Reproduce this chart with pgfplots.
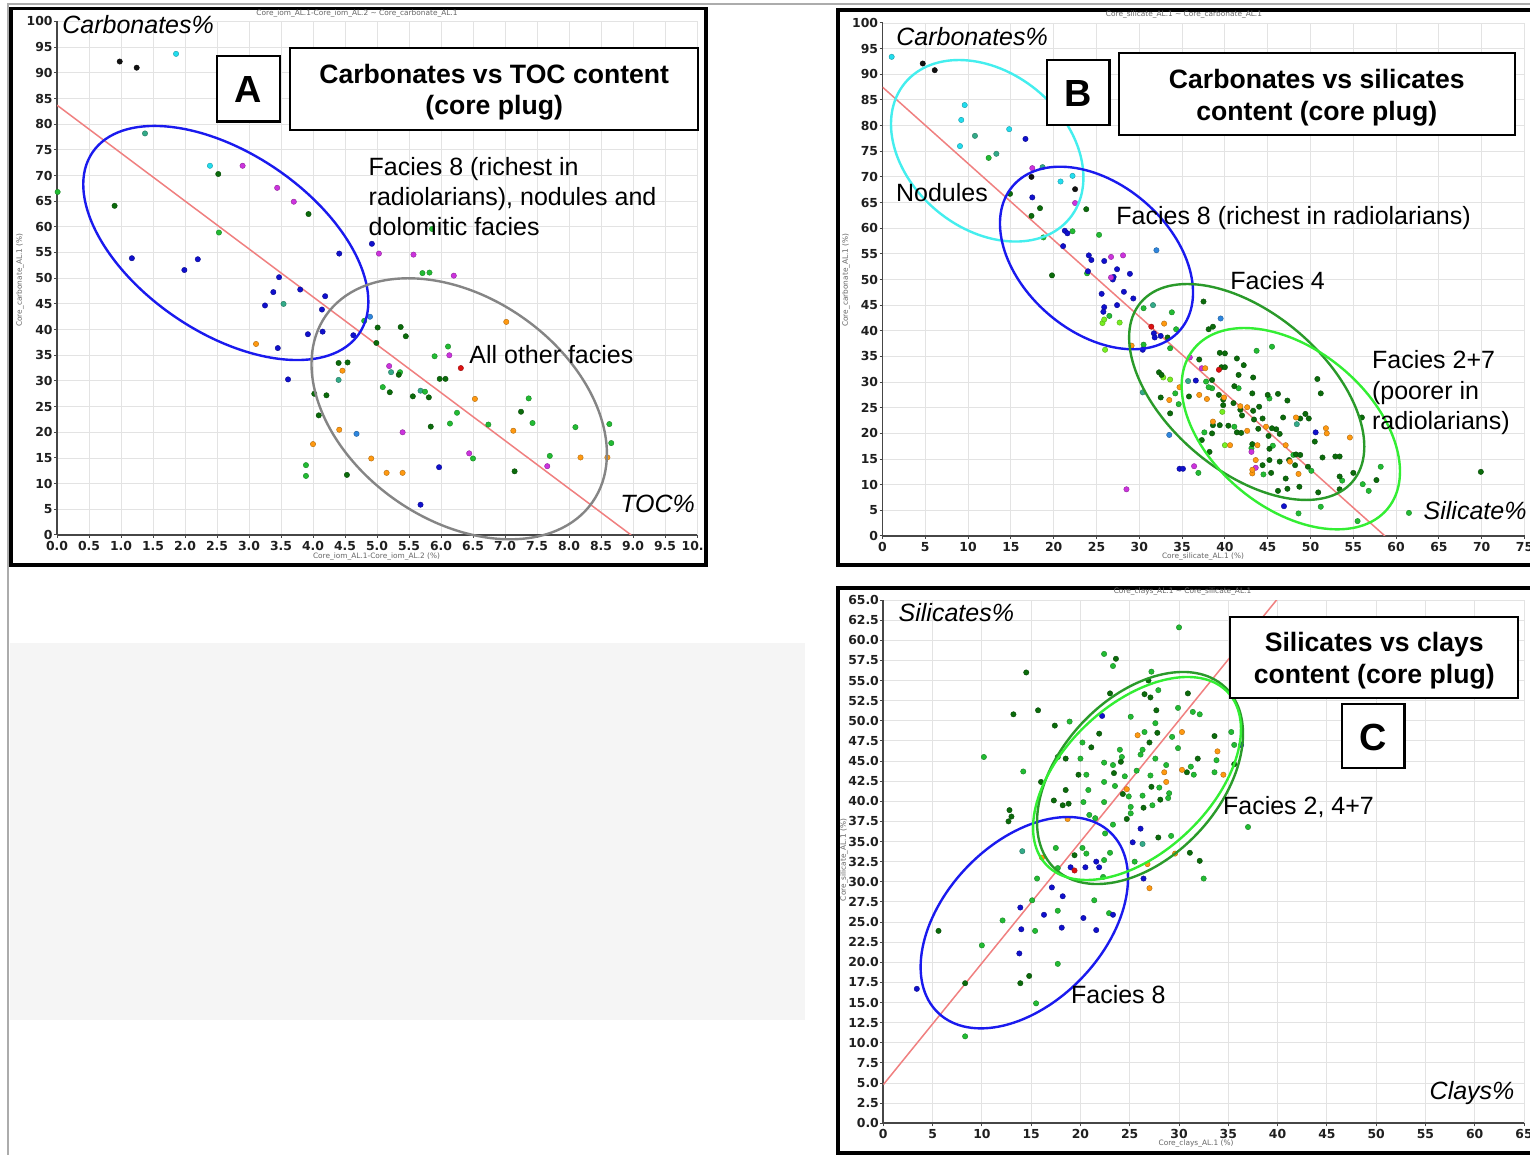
\documentclass[border=0pt]{standalone}
\usepackage{fontspec}
\setmainfont{Liberation Sans}
\newfontfamily\dejavu{DejaVu Sans}
\usepackage{pgfplots}
\pgfplotsset{compat=1.18}

\definecolor{cBlack}{HTML}{111111}
\definecolor{cCyan}{HTML}{22DDEE}
\definecolor{cTeal}{HTML}{33AA88}
\definecolor{cGreen}{HTML}{22BB33}
\definecolor{cDkGreen}{HTML}{0B6B0B}
\definecolor{cLime}{HTML}{77EE22}
\definecolor{cBlue}{HTML}{1010CC}
\definecolor{cSteel}{HTML}{2E86DE}
\definecolor{cMag}{HTML}{CC33DD}
\definecolor{cOrange}{HTML}{FF9911}
\definecolor{cRed}{HTML}{DD1111}
\definecolor{cLine}{HTML}{F08080}
\definecolor{eBlue}{HTML}{1A1AEE}
\definecolor{eGrey}{HTML}{858585}
\definecolor{eCyan}{HTML}{44EEEE}
\definecolor{eDkGreen}{HTML}{2A9A2A}
\definecolor{eLtGreen}{HTML}{33EE33}

\pgfplotsset{
  panel/.style={
    scale only axis, anchor=south west,
    axis x line*=bottom, axis y line*=left,
    axis line style={draw=gray!55!black, line width=0.9pt},
    grid=major, grid style={draw=gray!22, line width=0.45pt},
    tick style={draw=gray!55!black, line width=0.5pt},
    tick align=outside, major tick length=1.5pt,
    ticklabel style={font=\dejavu\bfseries\fontsize{6.2}{7}\selectfont, text=black!88},
    xticklabel style={yshift=2pt},
    yticklabel style={xshift=2.8pt},
    /pgf/number format/assume math mode=true,
    clip=true,
  },
  dot/.style={only marks, mark=*, mark size=1.35pt, color=#1,
    mark options={fill=#1, draw=#1!70!black, line width=0.2pt}},
  reg/.style={cLine, line width=0.75pt, no marks},
}

\begin{document}
\begin{tikzpicture}
\useasboundingbox (0,0) rectangle (765pt,577.5pt);
\clip (0,0) rectangle (765pt,577.5pt);
\begin{scope}[x=0.5pt,y=-0.5pt,yshift=577.5pt]
  \fill[white] (0,0) rectangle (1530,1155);
  \coordinate (Ao) at (57,535);
  \coordinate (Bo) at (882.5,536);
  \coordinate (Co) at (883.3,1123.3);
  \fill[gray!8] (10,643) rectangle (805,1020);
  \draw[gray!65, line width=1pt] (8,1160) -- (8,4.5) -- (1540,4.5);
  \draw[black, line width=1.9pt] (11,8.5) rectangle (706,565);
  \draw[black, line width=1.9pt] (838.3,9.7) rectangle (1545,565.3);
  \draw[black, line width=1.9pt] (838.3,587.7) rectangle (1545,1153);
\end{scope}

% ---------------- Panel A ----------------
\begin{axis}[panel, at={(Ao)}, width=320pt, height=256.75pt,
  xmin=0, xmax=10, ymin=0, ymax=100,
  xtick={0,0.5,...,10}, ytick={0,5,...,100},
  xticklabels={0.0,0.5,1.0,1.5,2.0,2.5,3.0,3.5,4.0,4.5,5.0,5.5,6.0,6.5,7.0,7.5,8.0,8.5,9.0,9.5,{\makebox[15.3pt][l]{10.}}},
]
\addplot[reg] coordinates {(0,83.7) (8.97,0)};
\addplot[dot=cBlack] coordinates {(0.98,92.2) (1.245,91.0)};
\addplot[dot=cCyan] coordinates {(1.86,93.7) (2.39,71.9)};
\addplot[dot=cTeal] coordinates {(1.375,78.2) (3.54,45.0) (4.40,30.2) (5.22,31.7) (5.68,28.1)};
\addplot[dot=cGreen] coordinates {(0.01,66.8) (2.53,58.9) (5.86,59.6) (5.71,51.0) (5.82,51.1) (4.80,41.7) (3.89,13.6) (3.89,11.5) (5.09,28.8) (6.11,36.7) (5.90,34.8) (5.36,31.7) (5.75,27.9) (7.37,26.6) (6.25,23.8) (6.14,21.7) (6.74,21.5) (7.43,21.8) (8.10,21.0) (8.63,21.6) (8.66,17.9) (6.5,14.9) (7.70,15.4)};
\addplot[dot=cDkGreen] coordinates {(0.90,64.1) (2.52,70.3) (3.93,62.5) (5.01,40.4) (4.99,37.4) (4.40,33.5) (4.54,33.6) (4.02,27.5) (4.21,27.2) (4.09,23.3) (4.53,11.7) (5.34,31.2) (5.20,27.8) (5.37,40.5) (5.45,38.7) (5.98,30.4) (6.07,30.4) (5.56,27.0) (5.81,26.8) (7.25,24.0) (5.84,21.1) (7.15,12.4)};
\addplot[dot=cBlue] coordinates {(1.17,53.9) (1.99,51.6) (2.2,53.7) (3.47,50.2) (3.38,47.3) (3.80,47.8) (4.19,46.5) (4.41,54.8) (4.92,56.7) (3.25,44.7) (4.14,43.9) (4.15,39.6) (3.92,39.1) (3.45,36.4) (3.61,30.3) (4.63,38.9) (5.97,13.2) (5.68,5.9)};
\addplot[dot=cMag] coordinates {(2.9,71.9) (3.44,67.6) (3.70,64.9) (5.03,54.8) (5.57,54.6) (6.20,50.5) (5.19,32.9) (6.13,35.0) (5.40,20.0) (6.44,15.9) (7.66,13.4)};
\addplot[dot=cOrange] coordinates {(3.11,37.2) (4.46,32.0) (4.41,20.5) (4.0,17.7) (4.91,14.9) (5.15,12.1) (5.40,12.1) (6.53,26.5) (7.13,20.3) (8.18,15.1) (8.60,15.1) (7.02,41.5)};
\addplot[dot=cSteel] coordinates {(4.89,42.5) (4.68,19.7)};
\addplot[dot=cRed] coordinates {(6.31,32.5)};
\end{axis}

% ---------------- Panel B ----------------
\begin{axis}[panel, at={(Bo)}, width=321pt, height=256.5pt,
  xmin=0, xmax=75, ymin=0, ymax=100,
  xtick={0,5,...,75}, ytick={0,5,...,100},
]
\addplot[reg] coordinates {(0,87.5) (58.7,0)};
\addplot[dot=cCyan] coordinates {(1.07,93.4) (9.6,84.0) (9.2,81.1) (14.8,79.3) (9.05,76.0) (20.8,69.1) (22.2,70.2)};
\addplot[dot=cTeal] coordinates {(13.3,74.5) (18.7,71.9) (10.8,78.0) (31.6,45.0) (30.4,28.0) (35.7,30.2) (48.4,21.8)};
\addplot[dot=cBlack] coordinates {(4.7,92.1) (6.1,90.8) (22.5,67.6) (17.4,70.0)};
\addplot[dot=cGreen] coordinates {(12.4,73.7) (25.3,58.7) (18.8,58.2) (22.2,59.4) (23.9,51.2) (26.5,42.9) (30.5,44.4) (33.8,43.6) (34.3,40.3) (30.5,37.3) (33.6,36.6) (34.2,27.8) (34.6,25.7) (37.8,30.1) (38.5,28.8) (41.6,28.8) (45.2,26.8) (43.7,36.1) (45.5,36.9) (41.1,21.3) (37.6,20.2) (43.1,17.1) (45.6,17.6) (48.0,15.8) (50.1,12.7) (44.5,12.0) (53.7,10.8) (56.1,10.1) (58.2,13.5) (56.8,8.8) (51.2,5.7) (48.6,4.4) (55.5,2.9) (61.5,4.5) (36.9,12.3) (38.1,29.0)};
\addplot[dot=cLime] coordinates {(25.7,41.5) (27.7,41.6) (26.0,36.3) (32.8,30.9) (33.6,30.5) (39.7,24.2) (40.0,17.7) (25.9,42.2)};
\addplot[dot=cDkGreen] coordinates {(14.9,66.7) (18.4,63.9) (17.4,62.4) (23.8,63.7) (19.8,50.8) (33.3,38.7) (32.3,31.9) (32.6,31.4) (32.5,27.0) (33.6,23.9) (37.5,45.7) (38.1,40.3) (38.6,40.8) (39.4,35.7) (40.0,35.6) (37.0,34.4) (41.4,34.6) (42.2,33.3) (39.6,32.9) (40.0,32.9) (41.6,31.4) (43.3,30.9) (50.8,30.6) (51.2,27.8) (38.5,30.4) (41.1,29.2) (43.2,27.8) (45.0,27.5) (46.2,27.7) (47.3,26.4) (35.8,27.2) (39.3,27.5) (39.8,26.6) (41.0,25.9) (39.8,25.5) (41.8,24.6) (43.3,24.4) (44.0,25.2) (42.0,23.5) (43.4,22.7) (44.4,22.9) (46.0,20.8) (46.8,23.1) (48.8,22.9) (49.4,23.8) (49.8,22.9) (56.0,23.1) (50.5,18.4) (38.6,21.6) (39.4,21.6) (40.4,21.5) (41.4,20.2) (41.9,20.1) (43.9,20.9) (45.5,21.0) (45.1,19.5) (46.4,19.9) (38.5,20.0) (37.3,18.7) (38.2,16.4) (43.2,17.9) (45.2,17.0) (46.4,14.5) (45.2,14.8) (44.4,13.8) (45.4,12.3) (47.5,14.8) (48.3,15.9) (48.8,15.8) (48.2,13.8) (49.7,13.5) (47.1,11.2) (46.2,8.8) (47.3,9.2) (48.7,9.6) (50.9,8.5) (51.4,15.3) (52.9,15.5) (53.4,15.5) (55.0,12.3) (53.4,11.6) (53.4,9.1) (57.7,10.9) (69.9,12.5)};
\addplot[dot=cBlue] coordinates {(16.7,77.4) (17.5,66.0) (21.3,59.5) (21.6,59.0) (21.1,56.5) (24.1,54.7) (24.4,53.8) (25.9,53.6) (27.4,52.0) (28.9,51.1) (24.0,51.6) (27.0,50.5) (26.9,50.0) (25.6,47.2) (28.2,47.6) (29.3,46.3) (25.9,44.6) (25.8,43.7) (27.4,45.0) (31.7,39.5) (31.8,38.7) (32.5,39.0) (30.4,36.3) (34.7,13.1) (36.6,30.3) (50.6,20.2) (46.9,5.8) (35.1,13.1)};
\addplot[dot=cMag] coordinates {(17.5,71.7) (22.5,64.9) (26.7,54.4) (28.1,54.7) (26.7,50.4) (28.5,9.1) (35.9,34.8) (37.3,32.7) (43.1,16.4) (43.6,13.3) (36.4,13.6)};
\addplot[dot=cOrange] coordinates {(29.1,37.1) (32.9,41.4) (33.5,26.5) (34.7,29.0) (37.7,32.7) (37.0,27.5) (37.9,26.7) (39.9,27.0) (41.8,25.3) (42.6,25.1) (44.8,21.3) (48.3,23.1) (51.8,21.0) (51.9,20.0) (54.6,19.2) (38.6,22.3) (42.6,20.5) (40.6,17.7) (43.8,17.7) (47.1,17.7) (43.6,14.8) (43.2,12.2) (43.2,12.9) (47.6,14.5) (48.6,12.1)};
\addplot[dot=cSteel] coordinates {(32.0,55.7) (39.5,42.4) (33.5,19.7)};
\addplot[dot=cRed] coordinates {(31.4,40.8) (39.3,32.4)};
\end{axis}

% ---------------- Panel C ----------------
\begin{axis}[panel, at={(Co)}, width=320.35pt, height=261.65pt,
  xmin=0, xmax=65, ymin=0, ymax=65,
  xtick={0,5,...,65}, ytick={0,2.5,...,65},
  yticklabel style={/pgf/number format/.cd, fixed, fixed zerofill, precision=1},
]
\addplot[reg] coordinates {(0,4.8) (45,72.7)};
\addplot[dot=cGreen] coordinates {(30.0,61.6) (22.4,58.3) (23.3,56.8) (27.2,56.1) (27.9,53.8) (29.9,51.6) (25.1,50.5) (18.9,49.9) (27.6,49.7) (26.5,48.6) (29.3,48.0) (20.2,47.3) (29.9,46.6) (24.0,46.4) (26.3,46.4) (10.2,45.5) (20.0,45.3) (24.2,45.5) (22.4,44.8) (26.1,45.8) (27.6,45.3) (28.7,44.5) (23.3,44.5) (14.2,43.7) (25.7,43.8) (20.6,43.3) (24.5,43.1) (27.1,43.2) (22.4,42.4) (23.5,41.9) (28.0,41.7) (20.8,41.4) (29.0,41.0) (24.9,40.6) (26.3,40.7) (28.9,40.4) (20.3,39.9) (22.4,39.9) (25.1,39.3) (27.3,39.5) (25.1,38.5) (20.9,38.3) (21.5,37.9) (23.3,37.1) (29.2,35.7) (22.5,36.0) (20.2,34.2) (17.5,34.2) (20.6,33.5) (23.0,33.6) (22.4,32.7) (25.5,32.5) (17.7,31.7) (31.4,51.1) (32.1,50.8) (35.3,48.6) (35.6,47.0) (33.8,45.1) (31.2,44.3) (31.5,43.3) (33.6,43.6) (37.0,36.8) (32.5,30.4) (15.6,30.4) (22.3,30.6) (15.1,27.7) (21.4,27.7) (17.7,26.4) (22.9,26.1) (12.1,25.2) (15.4,23.9) (10.0,22.1) (17.7,19.8) (15.5,14.9) (8.3,10.8)};
\addplot[dot=cDkGreen] coordinates {(23.6,57.7) (14.5,56.0) (26.9,55.0) (23.0,53.4) (26.5,53.3) (27.1,52.9) (27.7,51.3) (13.2,50.8) (15.7,51.3) (17.4,49.4) (27.8,48.5) (21.9,48.4) (27.0,47.3) (21.1,46.7) (17.7,45.5) (18.5,45.3) (24.1,44.9) (23.4,43.5) (19.8,43.3) (16.0,42.4) (27.2,41.8) (18.5,41.4) (24.3,40.9) (17.3,40.1) (28.1,40.2) (18.2,39.5) (18.8,39.7) (26.4,39.2) (12.8,38.9) (13.0,38.1) (12.7,37.5) (24.7,37.8) (27.9,35.5) (19.4,33.3) (30.9,53.4) (33.6,48.1) (31.9,45.3) (35.6,44.6) (30.8,43.6) (31.1,33.6) (32.1,32.6) (5.6,23.9) (14.8,18.3) (8.3,17.4) (13.9,17.4)};
\addplot[dot=cBlue] coordinates {(22.2,50.6) (26.1,36.6) (25.3,34.9) (21.6,32.5) (19.0,31.8) (20.5,31.8) (21.9,31.8) (36.3,47.0) (26.4,30.4) (17.1,29.3) (18.2,28.2) (13.9,26.8) (16.3,25.9) (23.3,25.9) (20.3,25.5) (14.0,24.1) (18.1,24.3) (21.6,24.0) (13.8,21.1) (3.4,16.7)};
\addplot[dot=cOrange] coordinates {(25.8,48.2) (28.5,43.6) (28.7,42.4) (24.7,41.5) (18.7,37.8) (16.1,33.0) (26.8,32.2) (29.6,33.5) (30.3,48.6) (33.9,46.2) (30.3,43.9) (34.5,43.3) (27.0,29.2)};
\addplot[dot=cTeal] coordinates {(26.3,34.7) (14.1,33.8)};
\addplot[dot=cRed] coordinates {(19.4,31.4)};
\end{axis}

% ---------------- Annotations ----------------
\begin{scope}[x=0.5pt,y=-0.5pt,yshift=577.5pt]
  % ellipses A
  \draw[eBlue, line width=1.2pt, rotate around={-34.2:(225.8,243)}] (225.8,243) ellipse [x radius=161.2, y radius=89.6];
  \draw[eGrey, line width=1.2pt, rotate around={-35.1:(459.2,408.8)}] (459.2,408.8) ellipse [x radius=162.7, y radius=111.2];
  % ellipses B
  \draw[eCyan, line width=1.2pt, rotate around={-39.4:(987.2,150.8)}] (987.2,150.8) ellipse [x radius=106.6, y radius=78.3];
  \draw[eBlue, line width=1.2pt, rotate around={-40.8:(1096.5,258)}] (1096.5,258) ellipse [x radius=110.4, y radius=73.9];
  \draw[eDkGreen, line width=1.2pt, rotate around={-40.2:(1246.7,392)}] (1246.7,392) ellipse [x radius=138.7, y radius=79];
  \draw[eLtGreen, line width=1.2pt, rotate around={-39.6:(1290.8,428.7)}] (1290.8,428.7) ellipse [x radius=125.6, y radius=79.2];
  % ellipses C
  \draw[eBlue, line width=1.2pt, rotate around={46.3:(1024.3,922.7)}] (1024.3,922.7) ellipse [x radius=124.7, y radius=79.8];
  \draw[eDkGreen, line width=1.2pt, rotate around={47:(1140,778)}] (1140,778) ellipse [x radius=124.4, y radius=79.8];
  \draw[eLtGreen, line width=1.2pt, rotate around={43.6:(1137,778.5)}] (1137,778.5) ellipse [x radius=125.2, y radius=73.7];

  % title boxes
  \draw[black, line width=1pt, fill=white] (290,48.3) rectangle (698.3,130);
  \node[align=center, font=\bfseries\fontsize{13.3}{16}\selectfont] at (494.2,92.2) {Carbonates vs TOC content\\(core plug)};
  \draw[black, line width=1.2pt, fill=white] (216.7,56) rectangle (280,121.7);
  \node[font=\bfseries\fontsize{18.9}{20}\selectfont] at (248.3,89.9) {A};

  \draw[black, line width=1pt, fill=white] (1118.7,53.3) rectangle (1515,135);
  \node[align=center, font=\bfseries\fontsize{13.3}{16}\selectfont] at (1316.8,97.2) {Carbonates vs silicates\\content (core plug)};
  \draw[black, line width=1.2pt, fill=white] (1046.7,60) rectangle (1109.3,125);
  \node[font=\bfseries\fontsize{18.9}{20}\selectfont] at (1078,93.5) {B};

  \draw[black, line width=1pt, fill=white] (1230,616.7) rectangle (1518.3,698.3);
  \node[align=center, font=\bfseries\fontsize{13.3}{16}\selectfont] at (1374.2,660.2) {Silicates vs clays\\content (core plug)};
  \draw[black, line width=1.2pt, fill=white] (1341.7,704.3) rectangle (1404.3,768.3);
  \node[font=\bfseries\fontsize{18.9}{20}\selectfont] at (1373,737.3) {C};

  % axis names
  \begin{scope}[every node/.style={anchor=base west, inner sep=0pt, font=\itshape\fontsize{12.5}{15}\selectfont}]
    \node at (62,33.5) {Carbonates\%};
    \node at (620,512.3) {TOC\%};
    \node at (896,45.7) {Carbonates\%};
    \node at (1423.3,520) {Silicate\%};
    \node at (898.3,621.7) {Silicates\%};
    \node at (1429.3,1100) {Clays\%};
  \end{scope}
  % annotations
  \begin{scope}[every node/.style={anchor=base west, inner sep=0pt, font=\fontsize{12.5}{15}\selectfont}]
    \node at (368.3,175.7) {Facies 8 (richest in};
    \node at (368.3,205.9) {radiolarians), nodules and};
    \node at (368.3,235.5) {dolomitic facies};
    \node at (469,364) {All other facies};
    \node at (895.7,201.7) {Nodules};
    \node at (1116,224.5) {Facies 8 (richest in radiolarians)};
    \node at (1230,290) {Facies 4};
    \node at (1371.7,368.3) {Facies 2+7};
    \node at (1371.7,399.5) {(poorer in};
    \node at (1371.7,429.5) {radiolarians)};
    \node at (1222.7,815) {Facies 2, 4+7};
    \node at (1070.7,1003.3) {Facies 8};
  \end{scope}
  % tiny axis captions
  \begin{scope}[every node/.style={inner sep=0pt, text=gray!80!black, font=\dejavu\fontsize{3.7}{4}\selectfont}]
    \node at (357,14) {Core\_iom\_AL.1-Core\_iom\_AL.2 \textasciitilde{} Core\_carbonate\_AL.1};
    \node at (376.5,557) {Core\_iom\_AL.1-Core\_iom\_AL.2 (\%)};
    \node[rotate=90] at (20,280) {Core\_carbonate\_AL.1 (\%)};
    \node at (1184,15) {Core\_silicate\_AL.1 \textasciitilde{} Core\_carbonate\_AL.1};
    \node at (1203,557) {Core\_silicate\_AL.1 (\%)};
    \node[rotate=90] at (846,280) {Core\_carbonate\_AL.1 (\%)};
    \node at (1182.5,591.5) {Core\_clays\_AL.1 \textasciitilde{} Core\_silicate\_AL.1};
    \node at (1196,1144) {Core\_clays\_AL.1 (\%)};
    \node[rotate=90] at (844,860) {Core\_silicate\_AL.1 (\%)};
  \end{scope}
\end{scope}
\end{tikzpicture}
\end{document}
